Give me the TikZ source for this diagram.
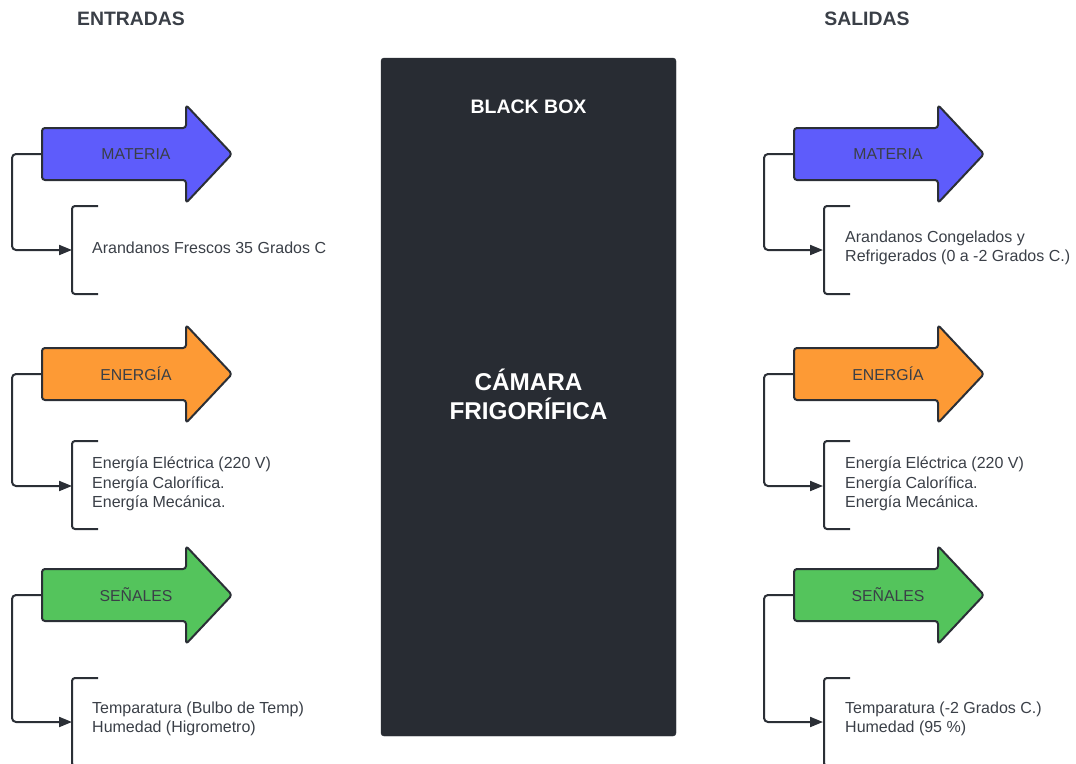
\documentclass[tikz,border=0pt]{standalone}
\usepackage{fontspec}
\setmainfont{Liberation Sans}
\usetikzlibrary{arrows.meta,calc}
\definecolor{ink}{HTML}{2B2F36}
\definecolor{txt}{HTML}{3A3F47}
\definecolor{boxbg}{HTML}{282C33}
\definecolor{cmat}{HTML}{5E5CFB}
\definecolor{cene}{HTML}{FD9A35}
\definecolor{csen}{HTML}{54C45C}
\tikzset{
  arrowline/.style={draw=ink, line width=2pt, rounded corners=3pt, line join=round},
  arrowlabel/.style={text=txt, font=\fontsize{15.8}{18}\selectfont, inner sep=0pt},
  conn/.style={draw=ink, line width=2pt, rounded corners=4pt, -{Triangle[length=13pt,width=10pt]}},
  brk/.style={draw=ink, line width=2pt, rounded corners=3pt},
  desc/.style={text=txt, font=\fontsize{16}{19.5}\selectfont, align=left, anchor=west, inner sep=0pt},
  heading/.style={text=txt, font=\bfseries\fontsize{19.4}{22}\selectfont, inner sep=0pt},
  bbox/.style={fill=boxbg, draw=boxbg, rounded corners=3pt, minimum width=295pt, minimum height=678pt, inner sep=0pt},
  bbtext/.style={text=white, font=\bfseries\fontsize{19.5}{22}\selectfont, inner sep=0pt},
  bbtitle/.style={text=white, font=\bfseries\fontsize{24.3}{29}\selectfont, align=center, inner sep=0pt}
}
% #1 name, #2 x of body left, #3 y centre, #4 colour, #5 label
\newcommand{\flowarrow}[5]{%
  \begin{scope}[shift={(#2,#3)}]
    \path[arrowline, fill=#4] (0,-26) -- (144,-26) -- (144,-49) -- (190,0) -- (144,49) -- (144,26) -- (0,26) -- cycle;
  \end{scope}
  \node[arrowlabel] (#1) at ($(#2,#3)+(94,0)$) {#5};
  \coordinate (#1w) at (#2,#3);
}
\begin{document}
\begin{tikzpicture}[x=1pt,y=-1pt]
\useasboundingbox (0,0) rectangle (1076,763);

\node[heading] (hin) at (131,19) {ENTRADAS};
\node[heading] (hout) at (867,19) {SALIDAS};

\node[bbox] (bb) at (528.5,397) {};
\node[bbtext] (bbt) at (528.5,107) {BLACK BOX};
\node[bbtitle] (bbn) at (528.5,394) {CÁMARA\\FRIGORÍFICA};

% left side
\flowarrow{lm}{42}{154}{cmat}{MATERIA}
\flowarrow{le}{42}{374}{cene}{ENERGÍA}
\flowarrow{ls}{42}{595}{csen}{SEÑALES}

\node[desc] (tlm) at (92,248) {Arandanos Frescos 35 Grados C};
\node[desc] (tle) at (92,484) {Energía Eléctrica (220 V)\\Energía Calorífica.\\Energía Mecánica.};
\node[desc] (tls) at (92,719) {Temparatura (Bulbo de Temp)\\Humedad (Higrometro)};

\draw[brk] (98,206) -- (72,206) -- (72,294) -- (98,294);
\draw[brk] (98,441) -- (72,441) -- (72,529) -- (98,529);
\draw[brk] (98,678) -- (72,678) -- (72,766) -- (98,766);

\draw[conn] (lmw) -- (12,154) |- ([xshift=-20pt,yshift=-2pt]tlm.west);
\draw[conn] (lew) -- (12,374) |- ([xshift=-20pt,yshift=-2pt]tle.west);
\draw[conn] (lsw) -- (12,595) |- ([xshift=-20pt,yshift=-3pt]tls.west);

% right side
\flowarrow{rm}{794}{154}{cmat}{MATERIA}
\flowarrow{re}{794}{374}{cene}{ENERGÍA}
\flowarrow{rs}{794}{595}{csen}{SEÑALES}

\node[desc] (trm) at (845,248) {Arandanos Congelados y\\Refrigerados (0 a -2 Grados C.)};
\node[desc] (tre) at (845,484) {Energía Eléctrica (220 V)\\Energía Calorífica.\\Energía Mecánica.};
\node[desc] (trs) at (845,719) {Temparatura (-2 Grados C.)\\Humedad (95 \%)};

\draw[brk] (850,206) -- (824,206) -- (824,294) -- (850,294);
\draw[brk] (850,441) -- (824,441) -- (824,529) -- (850,529);
\draw[brk] (850,678) -- (824,678) -- (824,766) -- (850,766);

\draw[conn] (rmw) -- (764,154) |- ([xshift=-22pt,yshift=-2pt]trm.west);
\draw[conn] (rew) -- (764,374) |- ([xshift=-22pt,yshift=-2pt]tre.west);
\draw[conn] (rsw) -- (764,595) |- ([xshift=-22pt,yshift=-3pt]trs.west);
\end{tikzpicture}
\end{document}
